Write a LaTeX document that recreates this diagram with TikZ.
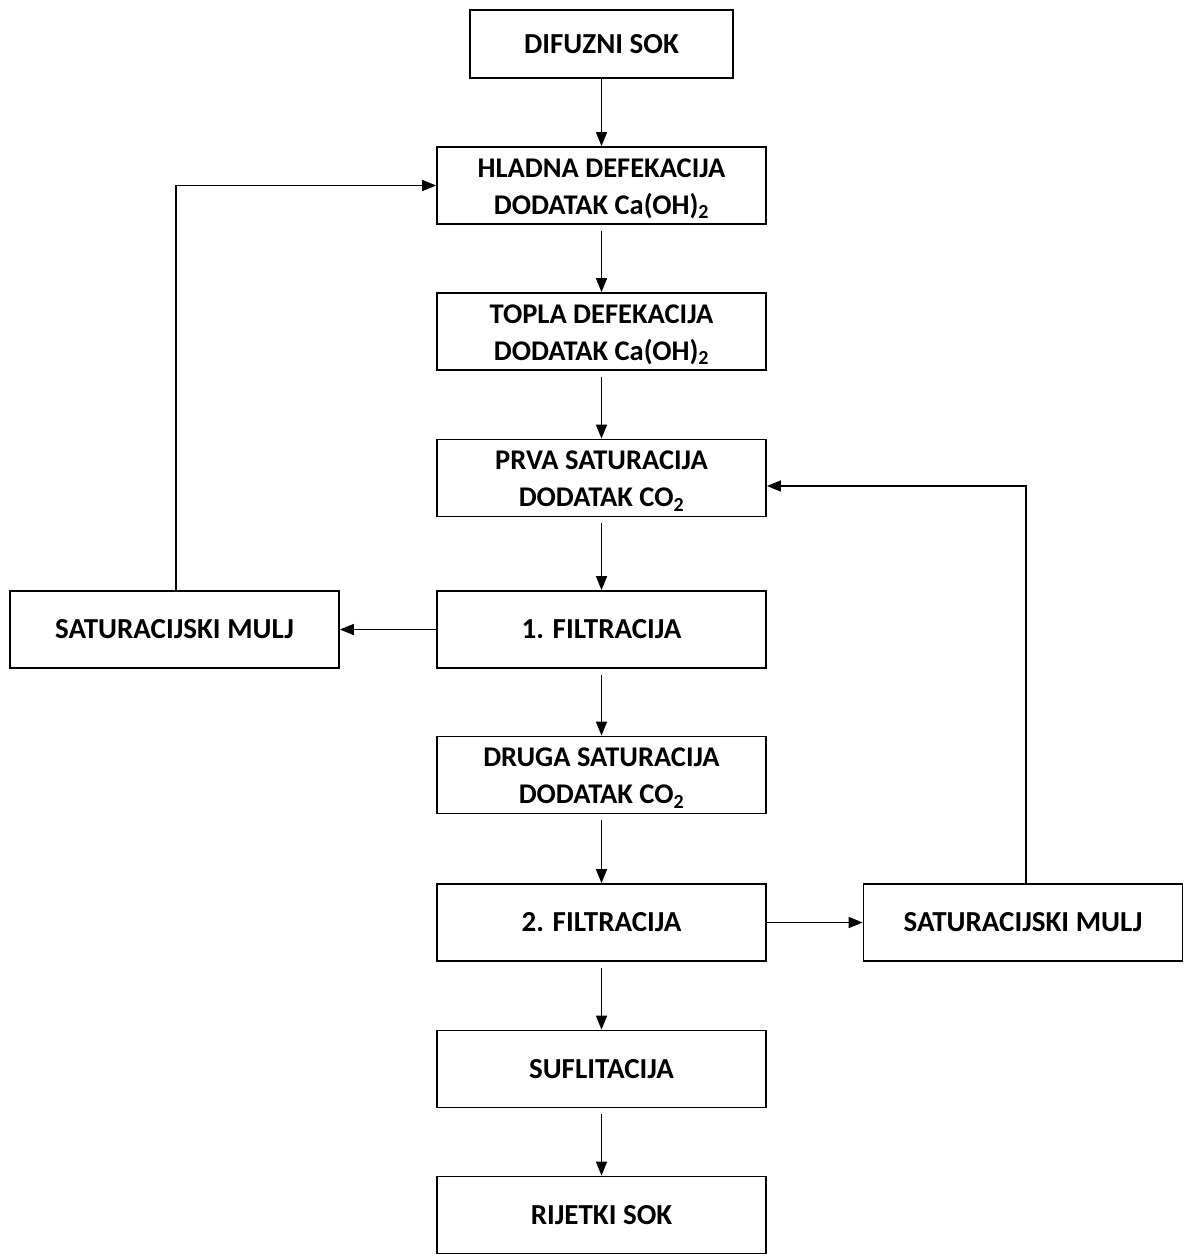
\documentclass[tikz,border=0pt]{standalone}
\usepackage{fontspec}
\setmainfont{Carlito}
\usetikzlibrary{arrows.meta,calc}
\begin{document}
\begin{tikzpicture}[x=1pt,y=-1pt,
  box/.style={draw, line width=1.8pt, minimum width=329pt, minimum height=77pt,
    inner sep=0pt, align=center, font=\fontsize{29}{36}\selectfont\bfseries},
  twoline/.style={label={[align=center, inner sep=0pt, yshift=-3pt,
    font=\fontsize{28.5}{37}\selectfont\bfseries]center:{#1}}},
  arr/.style={-{Triangle[length=14pt,width=11pt]}, line width=1.6pt},
  gap/.style={shorten <=6pt}]
\useasboundingbox (0,0) rectangle (1184,1256);
\node[box, minimum width=263pt, minimum height=68pt] (dif) at (601.5,44) {DIFUZNI SOK};
\node[box, twoline={HLADNA DEFEKACIJA\\DODATAK Ca(OH)\textsubscript{2}}] (hla) at (601.5,185.5) {};
\node[box, twoline={TOPLA DEFEKACIJA\\DODATAK Ca(OH)\textsubscript{2}}] (top) at (601.5,331.5) {};
\node[box, twoline={PRVA SATURACIJA\\DODATAK CO\textsubscript{2}}] (prv) at (601.5,478) {};
\node[box] (f1) at (601.5,629.5) {1. FILTRACIJA};
\node[box, twoline={DRUGA SATURACIJA\\DODATAK CO\textsubscript{2}}] (dru) at (601.5,775) {};
\node[box] (f2) at (601.5,922.5) {2. FILTRACIJA};
\node[box] (suf) at (601.5,1069) {SUFLITACIJA};
\node[box] (rij) at (601.5,1215) {RIJETKI SOK};
\node[box] (lm) at (174.5,629.5) {SATURACIJSKI MULJ};
\node[box, minimum width=319pt] (rm) at (1023,922.5) {SATURACIJSKI MULJ};
\draw[arr] (dif.south) -- (hla.north);
\draw[arr,gap] (hla.south) -- (top.north);
\draw[arr,gap] (top.south) -- (prv.north);
\draw[arr,gap] (prv.south) -- (f1.north);
\draw[arr,gap] (f1.south) -- (dru.north);
\draw[arr,gap] (dru.south) -- (f2.north);
\draw[arr,gap] (f2.south) -- (suf.north);
\draw[arr,gap] (suf.south) -- (rij.north);
\draw[arr] (f1.west) -- (lm.east);
\draw[arr] (f2.east) -- (rm.west);
\draw[arr] ([xshift=1.5pt]lm.north) |- (hla.west);
\draw[arr] ([xshift=3pt]rm.north) |- ($(prv.east)+(0,8)$);
\end{tikzpicture}
\end{document}
